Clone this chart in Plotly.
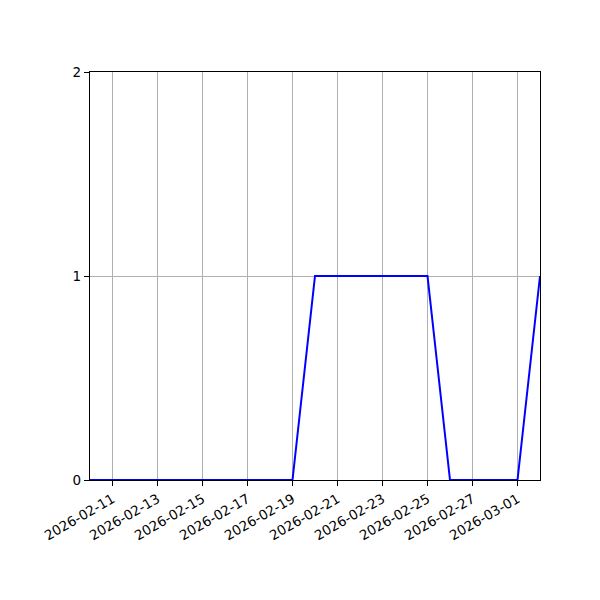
import plotly.graph_objects as go

dates = ["2026-02-10", "2026-02-11", "2026-02-12", "2026-02-13", "2026-02-14",
         "2026-02-15", "2026-02-16", "2026-02-17", "2026-02-18", "2026-02-19",
         "2026-02-20", "2026-02-21", "2026-02-22", "2026-02-23", "2026-02-24",
         "2026-02-25", "2026-02-26", "2026-02-27", "2026-02-28", "2026-03-01",
         "2026-03-02"]
values = [0, 0, 0, 0, 0, 0, 0, 0, 0, 0,
          1, 1, 1, 1, 1, 1, 0, 0, 0, 0, 1]

tick_dates = ["2026-02-11", "2026-02-13", "2026-02-15", "2026-02-17", "2026-02-19",
              "2026-02-21", "2026-02-23", "2026-02-25", "2026-02-27", "2026-03-01"]
y_ticks = [0, 1, 2]

fig = go.Figure()
fig.add_trace(go.Scatter(x=dates, y=values, mode="lines",
                         line=dict(color="#0000ff", width=2)))

fig.update_layout(
    width=600, height=600,
    margin=dict(l=82, r=68, t=64, b=128),
    plot_bgcolor="white", paper_bgcolor="white",
    showlegend=False,
    font=dict(family="DejaVu Sans", size=13.5, color="black"),
)
fig.update_xaxes(
    range=[dates[0], dates[-1]],
    tickvals=tick_dates, ticktext=tick_dates,
    tickangle=-30,
    showgrid=True, gridcolor="#b0b0b0", gridwidth=1,
    showline=True, linecolor="black", linewidth=1.2, mirror=True,
    ticks="outside", ticklen=5, tickcolor="black", tickwidth=1.2,
    zeroline=False,
)
fig.update_yaxes(
    range=[0, 2],
    tickvals=y_ticks,
    showgrid=True, gridcolor="#b0b0b0", gridwidth=1,
    showline=True, linecolor="black", linewidth=1.2, mirror=True,
    ticks="outside", ticklen=5, tickcolor="black", tickwidth=1.2,
    zeroline=False,
)
fig.write_html("out.html")
